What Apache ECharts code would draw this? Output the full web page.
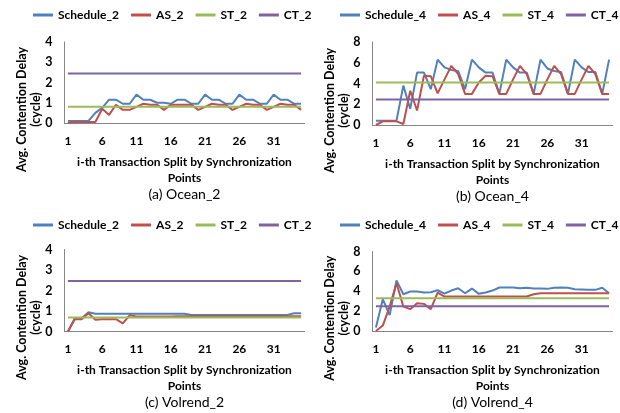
<!DOCTYPE html>
<html><head><meta charset="utf-8">
<script src="https://cdn.jsdelivr.net/npm/echarts@6/dist/echarts.min.js"></script>
<style>html,body{margin:0;padding:0;background:#fff}#c{width:620px;height:413px}</style>
</head><body><div id="c"></div>
<script>
const categories = [1,2,3,4,5,6,7,8,9,10,11,12,13,14,15,16,17,18,19,20,21,22,23,24,25,26,27,28,29,30,31,32,33,34,35];

// (a) Ocean_2
const schedA = [0.1,0.1,0.1,0.1,0.5,0.75,1.15,1.15,0.95,0.95, 1.4,1.15,1.15,1.0,1.0,0.95,1.15,1.15,0.95,0.95, 1.4,1.15,1.15,0.95,0.95,1.4,1.15,1.15,0.95,0.95, 1.4,1.15,1.15,0.95,0.95];
const asA    = [0,0.05,0.05,0.05,0.05,0.7,0.4,0.9,0.65,0.65, 0.8,0.95,0.9,0.9,0.65,0.9,0.9,0.9,0.9,0.65, 0.8,0.95,0.9,0.9,0.65,0.8,0.95,0.9,0.9,0.65, 0.8,0.95,0.9,0.9,0.65];
const stA    = [0.8,0.8,0.8,0.8,0.8,0.8,0.8,0.8,0.8,0.8, 0.8,0.8,0.8,0.8,0.8,0.8,0.8,0.8,0.8,0.8, 0.8,0.8,0.8,0.8,0.8,0.8,0.8,0.8,0.8,0.8, 0.8,0.8,0.8,0.8,0.8];
const ctA    = [2.45,2.45,2.45,2.45,2.45,2.45,2.45,2.45,2.45,2.45, 2.45,2.45,2.45,2.45,2.45,2.45,2.45,2.45,2.45,2.45, 2.45,2.45,2.45,2.45,2.45,2.45,2.45,2.45,2.45,2.45, 2.45,2.45,2.45,2.45,2.45];

// (b) Ocean_4
const schedB = [0.42,0.42,0.42,0.42,3.8,1.55,5.05,5.05,3.45,6.3, 5.55,5.3,5.2,3.45,6.3,5.55,5.05,5.05,3.0,6.3, 5.55,5.05,5.05,3.0,6.3,5.45,5.2,5.1,3.0,6.3, 5.55,5.1,5.1,3.0,6.3];
const asB    = [0,0.35,0.35,0.35,0.1,3.3,1.4,4.75,4.7,3.05, 4.4,5.7,4.9,3.0,3.0,4.1,4.75,4.7,3.0,3.0, 4.4,5.7,4.9,3.0,3.0,4.4,5.7,4.9,3.0,3.0, 4.4,5.7,4.9,3.0,3.0];
const stB    = [4.1,4.1,4.1,4.1,4.1,4.1,4.1,4.1,4.1,4.1, 4.1,4.1,4.1,4.1,4.1,4.1,4.1,4.1,4.1,4.1, 4.1,4.1,4.1,4.1,4.1,4.1,4.1,4.1,4.1,4.1, 4.1,4.1,4.1,4.1,4.1];
const ctB    = [2.45,2.45,2.45,2.45,2.45,2.45,2.45,2.45,2.45,2.45, 2.45,2.45,2.45,2.45,2.45,2.45,2.45,2.45,2.45,2.45, 2.45,2.45,2.45,2.45,2.45,2.45,2.45,2.45,2.45,2.45, 2.45,2.45,2.45,2.45,2.45];

// (c) Volrend_2
const schedC = [0,0.65,0.65,0.94,0.87,0.87,0.87,0.87,0.87,0.87, 0.87,0.87,0.87,0.87,0.87,0.87,0.87,0.87,0.81,0.81, 0.81,0.81,0.81,0.81,0.81,0.81,0.81,0.81,0.81,0.81, 0.81,0.81,0.81,0.89,0.89];
const asC    = [0,0.6,0.6,0.89,0.57,0.6,0.6,0.6,0.4,0.79, 0.73,0.73,0.73,0.73,0.73,0.73,0.75,0.75,0.75,0.75, 0.75,0.75,0.75,0.75,0.75,0.75,0.75,0.75,0.75,0.75, 0.75,0.75,0.75,0.75,0.75];
const stC    = [0.68,0.68,0.68,0.68,0.68,0.68,0.68,0.68,0.68,0.68, 0.68,0.68,0.68,0.68,0.68,0.68,0.68,0.68,0.68,0.68, 0.68,0.68,0.68,0.68,0.68,0.68,0.68,0.68,0.68,0.68, 0.68,0.68,0.68,0.68,0.68];
const ctC    = [2.46,2.46,2.46,2.46,2.46,2.46,2.46,2.46,2.46,2.46, 2.46,2.46,2.46,2.46,2.46,2.46,2.46,2.46,2.46,2.46, 2.46,2.46,2.46,2.46,2.46,2.46,2.46,2.46,2.46,2.46, 2.46,2.46,2.46,2.46,2.46];

// (d) Volrend_4
const schedD = [0.35,3.2,1.6,5.1,3.7,3.97,3.97,3.87,3.9,4.1, 3.77,4.07,4.3,3.8,4.27,3.74,3.87,4.07,4.38,4.38, 4.38,4.3,4.35,4.28,4.28,4.24,4.35,4.38,4.35,4.2, 4.17,4.14,4.14,4.35,3.8];
const asD    = [0,0.55,2.45,4.8,2.45,2.2,2.8,2.73,2.2,3.87, 3.47,3.47,3.47,3.47,3.47,3.47,3.47,3.47,3.47,3.47, 3.47,3.47,3.47,3.7,3.8,3.8,3.8,3.8,3.8,3.8, 3.8,3.8,3.8,3.8,3.8];
const stD    = [3.3,3.3,3.3,3.3,3.3,3.3,3.3,3.3,3.3,3.3, 3.3,3.3,3.3,3.3,3.3,3.3,3.3,3.3,3.3,3.3, 3.3,3.3,3.3,3.3,3.3,3.3,3.3,3.3,3.3,3.3, 3.3,3.3,3.3,3.3,3.3];
const ctD    = [2.5,2.5,2.5,2.5,2.5,2.5,2.5,2.5,2.5,2.5, 2.5,2.5,2.5,2.5,2.5,2.5,2.5,2.5,2.5,2.5, 2.5,2.5,2.5,2.5,2.5,2.5,2.5,2.5,2.5,2.5, 2.5,2.5,2.5,2.5,2.5];

const names2 = ['Schedule_2','AS_2','ST_2','CT_2'];
const names4 = ['Schedule_4','AS_4','ST_4','CT_4'];
const subtitles = ['(a) Ocean_2','(b) Ocean_4','(c) Volrend_2','(d) Volrend_4'];
const xTitle = 'i-th Transaction Split by Synchronization\nPoints';
const yTitle = 'Avg. Contention Delay\n(cycle)';

const COLORS = ['#4F81BD','#C0504D','#9BBB59','#8064A2'];
const FONT = 'Lato';

const panels = [
  {names:names2, data:[schedA,asA,stA,ctA], max:4, interval:1, left:64.5, top:42, bottom:123, legendLeft:33, legendTop:9},
  {names:names4, data:[schedB,asB,stB,ctB], max:8, interval:2, left:372.5, top:42, bottom:125, legendLeft:340, legendTop:9},
  {names:names2, data:[schedC,asC,stC,ctC], max:4, interval:1, left:64.5, top:249.5, bottom:331.5, legendLeft:33, legendTop:219},
  {names:names4, data:[schedD,asD,stD,ctD], max:8, interval:2, left:372.5, top:251.5, bottom:331, legendLeft:340, legendTop:219}
];
const W = 240;

const grid=[], xAxis=[], yAxis=[], series=[], legend=[], graphic=[];
panels.forEach((p,i)=>{
  grid.push({left:p.left, top:p.top, width:W, height:p.bottom-p.top, containLabel:false});
  xAxis.push({type:'category', gridIndex:i, data:categories, boundaryGap:true,
    axisLine:{lineStyle:{color:'#868686',width:1}}, axisTick:{show:false},
    axisLabel:{interval:4, margin:12, color:'#000', fontFamily:FONT, fontWeight:'bold', fontSize:12},
    name:xTitle, nameLocation:'middle', nameGap:31,
    nameTextStyle:{color:'#000', fontFamily:FONT, fontWeight:'bold', fontSize:12, lineHeight:16}});
  yAxis.push({type:'value', gridIndex:i, min:0, max:p.max, interval:p.interval,
    splitLine:{show:false}, axisTick:{show:false},
    axisLine:{show:true, lineStyle:{color:'#868686',width:1}},
    axisLabel:{margin:12, color:'#000', fontFamily:FONT, fontWeight:'bold', fontSize:12.5}});
  p.names.forEach((n,k)=>{
    series.push({type:'line', name:n, xAxisIndex:i, yAxisIndex:i, data:p.data[k],
      symbol:'none', color:COLORS[k], lineStyle:{width:2, color:COLORS[k]}, animation:false});
  });
  legend.push({data:p.names.map(n=>({name:n, icon:'rect'})), left:p.legendLeft, top:p.legendTop, orient:'horizontal', padding:0,
    width:400, itemWidth:20, itemHeight:3, itemGap:12,
    textStyle:{color:'#000', fontFamily:FONT, fontWeight:'bold', fontSize:12}});
  const cx = p.left + W/2;
  graphic.push({type:'text', x:cx, y:p.bottom+71,
    style:{text:subtitles[i], font:'14px '+FONT, fill:'#000', align:'center', verticalAlign:'middle', textAlign:'center', textVerticalAlign:'middle'}});
  graphic.push({type:'text', x:p.left-36, y:(p.top+p.bottom)/2+27, rotation:Math.PI/2,
    style:{text:yTitle, font:'bold 12.5px '+FONT, fill:'#000', lineHeight:14, align:'center', verticalAlign:'middle', textAlign:'center', textVerticalAlign:'middle'}});
});

const chart = echarts.init(document.getElementById('c'), null, {renderer:'canvas'});
chart.setOption({animation:false, backgroundColor:'#fff', grid, xAxis, yAxis, series, legend, graphic});
</script>
</body></html>
